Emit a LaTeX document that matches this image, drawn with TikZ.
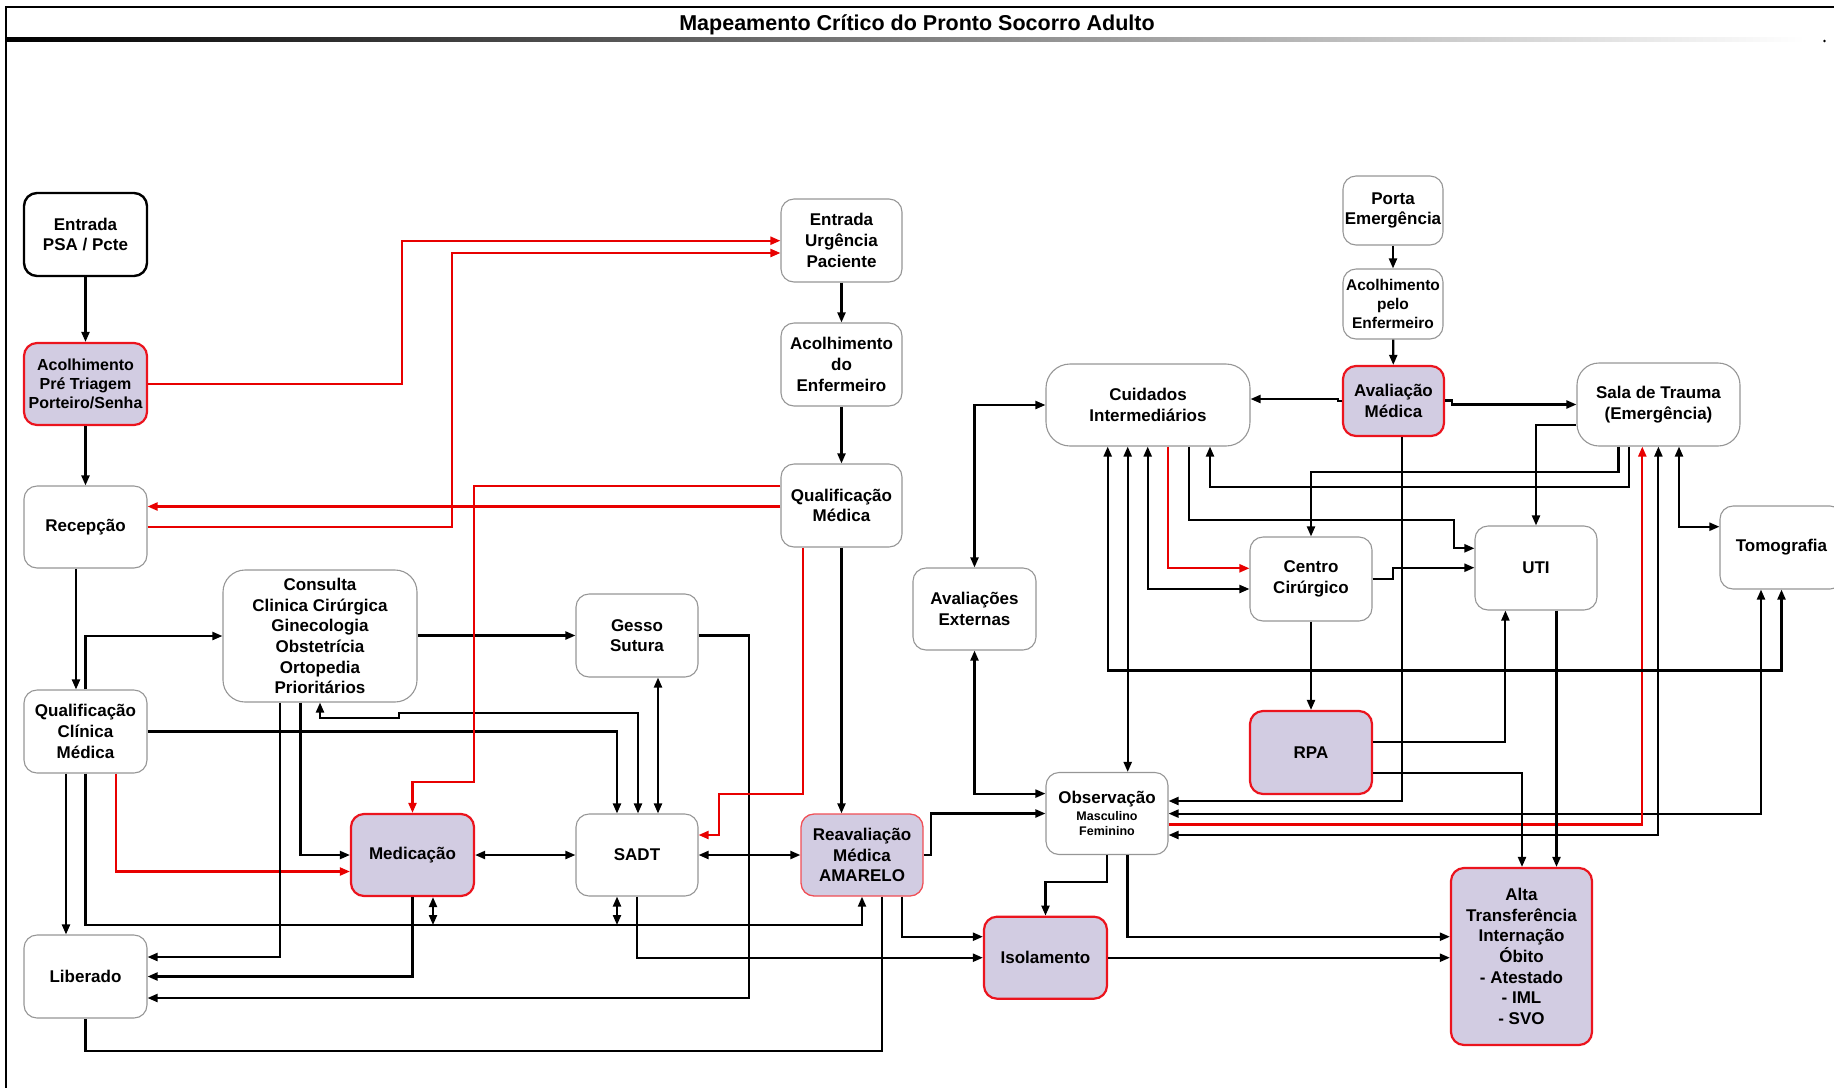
\documentclass[tikz,border=0pt]{standalone}
\usepackage{fontspec}
\setmainfont{Liberation Sans}
\usetikzlibrary{arrows.meta}
\definecolor{lav}{RGB}{210,204,226}
\definecolor{hotred}{RGB}{235,20,30}
\definecolor{flowred}{RGB}{232,0,0}
\definecolor{boxgray}{RGB}{150,150,150}

\begin{document}
\begin{tikzpicture}[x=1pt,y=-1pt,
  >={Triangle[length=10pt,width=8pt]},
  sz/.style 2 args={minimum width=#1, minimum height=#2},
  box/.style={draw=boxgray, line width=1.1pt, rounded corners=13pt, fill=white,
              align=center, inner sep=0pt, text=black,
              font=\bfseries\fontsize{17}{20.7}\selectfont},
  hot/.style={box, draw=hotred, fill=lav, line width=2.2pt},
  flow/.style={line width=2.1pt, draw=black},
  arr/.style={flow, ->},
  darr/.style={flow, <->},
  rarr/.style={flow, draw=flowred, ->}
]
\useasboundingbox (0,0) rectangle (1834,1088);

% frame and title
\draw[line width=2.5pt] (5,7) -- (1834,7);
\draw[line width=1.8pt] (6,6) -- (6,1088);
\shade[left color=black, middle color=gray!75, right color=white] (7,37.5) rectangle (1805,41.5);
\fill (1824.5,41) circle (1.3);
\node[font=\bfseries\fontsize{21.5}{25}\selectfont] (title) at (917,24.5) {Mapeamento Crítico do Pronto Socorro Adulto};

% left column
\node[box, draw=black, line width=2.4pt, sz={123pt}{83pt}] (entpsa) at (85.5,234.5) {Entrada\\PSA / Pcte};
\node[hot, sz={123pt}{82pt}, font=\bfseries\fontsize{16}{19}\selectfont] (acpre) at (85.5,384) {Acolhimento\\Pré Triagem\\Porteiro/Senha};
\node[box, sz={123pt}{82pt}] (recep) at (85.5,527) {Recepção};
\node[box, sz={123pt}{83pt}] (qcm) at (85.5,731.5) {Qualificação\\Clínica\\Médica};
\node[box, sz={123pt}{83pt}] (liber) at (85.5,976.5) {Liberado};

% second and third columns
\node[box, sz={194pt}{132pt}, rounded corners=22pt] (consulta) at (320,636) {Consulta\\Clinica Cirúrgica\\Ginecologia\\Obstetrícia\\Ortopedia\\Prioritários};
\node[box, sz={122pt}{83pt}] (gesso) at (637,635.5) {Gesso\\Sutura};
\node[hot, sz={123pt}{82pt}] (medic) at (412.5,855) {Medicação};
\node[box, sz={122pt}{82pt}] (sadt) at (637,855) {SADT};

% urgency column
\node[box, sz={121pt}{83pt}] (entu) at (841.5,240.5) {Entrada\\Urgência\\Paciente};
\node[box, sz={121pt}{83pt}] (acenf) at (841.5,364.5) {Acolhimento\\do\\Enfermeiro};
\node[box, sz={121pt}{83pt}] (qmed) at (841.5,505.5) {Qualificação\\Médica};
\node[hot, draw=hotred!75, line width=1.3pt, sz={122pt}{82pt}] (reav) at (862,855) {Reavaliação\\Médica\\AMARELO};
\node[box, sz={123pt}{82pt}] (avext) at (974.5,609) {Avaliações\\Externas};
\node[box, sz={122pt}{82pt}] (obs) at (1107,813.5) {Observação\\[-4pt]{\fontsize{12.5}{15}\selectfont Masculino}\\[-5.7pt]{\fontsize{12.5}{15}\selectfont Feminino}};
\node[hot, sz={123pt}{82pt}] (isol) at (1045.5,957.7) {Isolamento};

% emergency side
\node[box, sz={204pt}{82pt}, rounded corners=24pt] (cuid) at (1148,405) {Cuidados\\Intermediários};
\node[box, sz={100pt}{69pt}] (porta) at (1393,210.5) {Porta\\Emergência};
\node[box, sz={100pt}{70pt}, font=\bfseries\fontsize{15.5}{19}\selectfont] (acpelo) at (1393,304) {Acolhimento\\pelo\\Enfermeiro};
\node[hot, sz={101pt}{70pt}] (avmed) at (1393.5,401) {Avaliação\\Médica};
\node[box, sz={163pt}{83pt}, rounded corners=22pt] (sala) at (1658.5,404.5) {Sala de Trauma\\(Emergência)};
\node[box, sz={122pt}{84pt}] (centro) at (1311,579) {Centro\\Cirúrgico};
\node[box, sz={122pt}{84pt}] (uti) at (1536,568) {UTI};
\node[box, sz={123pt}{83pt}] (tomo) at (1781.5,547.5) {Tomografia};
\node[hot, sz={122pt}{83pt}] (rpa) at (1311,752.5) {RPA};
\node[hot, sz={141pt}{177pt}] (alta) at (1521.5,956.5) {Alta\\Transferência\\Internação\\Óbito\\- Atestado\\- IML\\- SVO};

% ---- connectors, left part
\draw[arr] (entpsa) -- (acpre);
\draw[arr] (acpre) -- (recep);
\draw[arr] (recep.south -| 76,0) -- (qcm.north -| 76,0);
\draw[arr] (qcm.north) |- (consulta.west);
\draw[arr] (qcm.south -| 66,0) -- (liber.north -| 66,0);
\draw[arr] (qcm.south) -- (85.5,925) -| (reav.south);
\draw[rarr] (qcm.south -| 116,0) |- (medic.west |- 0,871.5);
\draw[arr] (qcm.east) -| (sadt.north -| 617,0);
\draw[arr] (consulta.east |- gesso.west) -- (gesso.west);
\draw[darr] (consulta.south) -- (320,718) -- (399,718) -- (399,713) -| (sadt.north -| 638,0);
\draw[arr] (consulta.south -| 280,0) |- (liber.east |- 0,957);
\draw[arr] (consulta.south -| 300.5,0) |- (medic.west);
\draw[arr] (medic.south) |- (liber.east);
\draw[arr] (gesso.east) -- (749,635.5) |- (liber.east |- 0,998);
\draw[darr] (gesso.south -| 658,0) -- (sadt.north -| 658,0);
\draw[darr] (medic.east) -- (sadt.west);
\draw[darr] (sadt.east) -- (reav.west);
\coordinate (bus) at (0,925);
\draw[darr] (medic.south -| 433,0) -- (bus -| 433,0);
\draw[darr] (sadt.south -| 617,0) -- (bus -| 617,0);
\draw[flow] (reav.south -| 882,0) -- (882,1051) -| (liber.south);
\draw[arr] (sadt.south) |- (isol.west);
\draw[arr] (reav.south -| 902,0) |- (isol.west |- 0,936.7);
\draw[arr] (reav.east) -- (931,855) |- (obs.west);
\draw[darr] (avext.south) |- (obs.west |- 0,793.6);
\draw[darr] (cuid.west) -| (avext.north);
\draw[arr] (qmed.south) -- (reav.north -| qmed.south);
\draw[arr] (entu) -- (acenf);
\draw[arr] (acenf) -- (qmed);

% red (priority) paths
\draw[rarr] (acpre.east) -- (402,384) |- (entu.west |- 0,240.7);
\draw[rarr] (recep.east) -- (451.7,527) |- (entu.west |- 0,253);
\draw[rarr] (qmed.west |- 0,506.5) -- (recep.east |- 0,506.5);
\draw[rarr] (qmed.west |- 0,486) -- (474,486) -- (474,782) -| (medic.north);
\draw[rarr] (qmed.south -| 803,0) -- (803,794) -- (719,794) |- (sadt.east |- 0,835);

% observation and isolation
\draw[arr] (obs.south) -- (1107,881.7) -| (isol.north);
\draw[arr] (obs.south -| 1127.5,0) |- (alta.west |- 0,936.7);
\draw[arr] (isol.east) -- (alta.west |- isol.east);

% ---- emergency side
\draw[arr] (porta) -- (acpelo);
\draw[arr] (acpelo) -- (avmed);
\draw[arr] (avmed.west) -- ++(-4,0) |- (cuid.east |- 0,399);
\draw[arr] (avmed.east |- 0,400.5) -- ++(7,0) |- (sala.west);
\draw[darr] (cuid.south -| 1147.7,0) |- (centro.west |- 0,589);
\draw[rarr] (cuid.south -| 1168.3,0) |- (centro.west |- 0,568.3);
\draw[arr] (cuid.south -| 1189,0) -- (1189,520) -- (1454.3,520) |- (uti.west |- 0,548.3);
\draw[arr] (sala.south -| 1628.7,0) |- (1210,486.7) -- (cuid.south -| 1210,0);
\draw[arr] (sala.south -| 1618.5,0) |- (1311,471.7) -- (centro.north);
\draw[arr] (sala.west |- 0,425) -| (uti.north);
\draw[darr] (sala.south -| 1679,0) |- (tomo.west |- 0,526.7);
\draw[arr] (avmed.south -| 1402.3,0) |- (obs.east |- 0,801);
\draw[darr] (obs.east |- 0,813.6) -| (tomo.south -| 1761,0);
\draw[rarr] (obs.east |- 0,824.5) -| (sala.south -| 1642.3,0);
\draw[darr] (obs.east |- 0,835) -| (sala.south -| 1658.4,0);
\draw[darr] (cuid.south -| 1107.7,0) -- (1107.7,670.5) -| (tomo.south);
\draw[darr] (cuid.south -| 1127.7,0) -- (obs.north -| 1127.7,0);
\draw[arr] (centro) -- (rpa);
\draw[arr] (centro.east |- 0,579.3) -- (1393.3,579.3) -- (1393.3,567.7) -- (uti.west |- 0,567.7);
\draw[arr] (rpa.east |- 0,742) -| (uti.south -| 1505.4,0);
\draw[arr] (rpa.east |- 0,773) -| (alta.north -| 1522,0);
\draw[arr] (uti.south -| 1556.5,0) -- (alta.north -| 1556.5,0);
\end{tikzpicture}
\end{document}
